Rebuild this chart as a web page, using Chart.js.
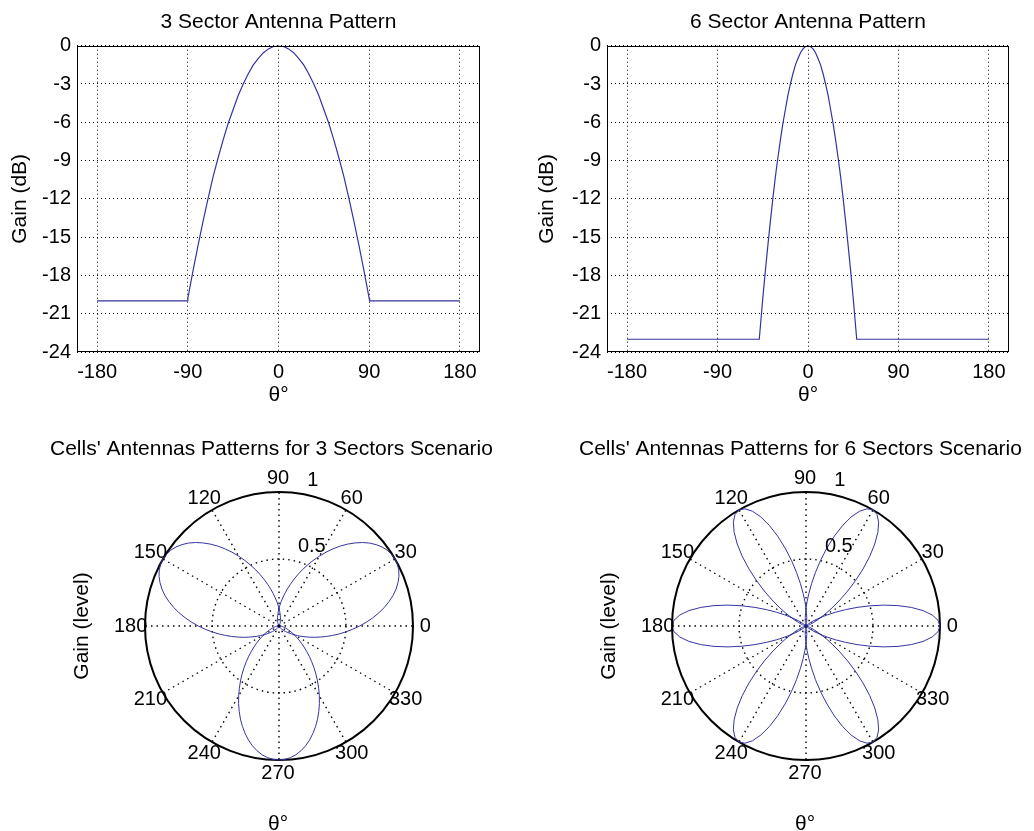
<!DOCTYPE html>
<html>
<head>
<meta charset="utf-8">
<script src="https://cdn.jsdelivr.net/npm/chart.js@4.4.1/dist/chart.umd.min.js"></script>
<style>
	html, body { margin:0; padding:0; background:#fff; }
	#fig { position:relative; width:1034px; height:831px; overflow:hidden; background:#fff; }
	canvas { position:absolute; }
</style>
</head>
<body>
<div id="fig">
	<canvas id="sector3" width="517" height="415" style="left:0px;top:0px"></canvas>
	<canvas id="sector6" width="517" height="415" style="left:517px;top:0px"></canvas>
	<canvas id="polar3" width="458" height="411" style="left:50px;top:420px"></canvas>
	<canvas id="polar6" width="455" height="411" style="left:579px;top:420px"></canvas>
</div>
<script>
/* =========================================================== DATA START =========================================================== */
// top plots: gain (dB) vs angle (deg)
var xTickVals = [-180, -90, 0, 90, 180];
var yTickVals = [-24, -21, -18, -15, -12, -9, -6, -3, 0];

var angle3Deg = [-180, -90.5, -90, -85, -80, -75, -70, -65, -60, -55, -50, -45, -40, -35, -30, -25, -20, -15, -10, -5, 0,
				 5, 10, 15, 20, 25, 30, 35, 40, 45, 50, 55, 60, 65, 70, 75, 80, 85, 90, 90.5, 180];
var gain3Db   = [-20, -20, -19.8, -17.7, -15.7, -13.8, -12.0, -10.3, -8.8, -7.4, -6.1, -5.0, -3.9, -3.0, -2.2, -1.5, -1.0, -0.55, -0.25, -0.06, 0,
				 -0.06, -0.25, -0.55, -1.0, -1.5, -2.2, -3.0, -3.9, -5.0, -6.1, -7.4, -8.8, -10.3, -12.0, -13.8, -15.7, -17.7, -19.8, -20, -20];

var angle6Deg = [-180, -48.5, -47.5, -45, -42.5, -40, -37.5, -35, -32.5, -30, -27.5, -25, -22.5, -20, -17.5, -15, -12.5, -10, -7.5, -5, -2.5, 0,
				 2.5, 5, 7.5, 10, 12.5, 15, 17.5, 20, 22.5, 25, 27.5, 30, 32.5, 35, 37.5, 40, 42.5, 45, 47.5, 48.5, 180];
var gain6Db   = [-23, -23, -22.1, -19.8, -17.7, -15.7, -13.8, -12.0, -10.3, -8.8, -7.4, -6.1, -5.0, -3.9, -3.0, -2.2, -1.5, -1.0, -0.55, -0.25, -0.06, 0,
				 -0.06, -0.25, -0.55, -1.0, -1.5, -2.2, -3.0, -3.9, -5.0, -6.1, -7.4, -8.8, -10.3, -12.0, -13.8, -15.7, -17.7, -19.8, -22.1, -23, -23];

// bottom plots: linear level of one lobe, from its boresight outwards every 2.5 deg, then flat floor
var polarStepDeg = 2.5;
var lobe3Level = [1.000, 0.996, 0.986, 0.969, 0.945, 0.916, 0.881, 0.841, 0.798, 0.752, 0.703, 0.653, 0.602, 0.551, 0.501, 0.453,
				  0.406, 0.361, 0.319, 0.280, 0.244, 0.211, 0.182, 0.155, 0.131, 0.111, 0.092, 0.077, 0.063, 0.052, 0.042, 0.034,
				  0.027, 0.022, 0.017, 0.013, 0.010];
var lobe3Floor = 0.010;
var lobe6Level = [1.000, 0.986, 0.945, 0.881, 0.798, 0.703, 0.602, 0.501, 0.406, 0.319, 0.244, 0.182, 0.131, 0.092, 0.063, 0.042,
				  0.027, 0.017, 0.010, 0.006];
var lobe6Floor = 0.005;

var sectors3Az = [30, 150, 270];
var sectors6Az = [0, 60, 120, 180, 240, 300];
var radialTickVals = [0.5, 1];
/* =========================================================== DATA END =========================================================== */

var lineColor = '#3434a0';
var gridColor = '#000';
var fontFamily = '"Liberation Sans", Arial, Helvetica, sans-serif';
Chart.defaults.font.family = fontFamily;
Chart.defaults.color = '#000';

// angle of each radar spoke, counter-clockwise from 0 deg (index 0 at the right)
var polarAngles = [];
for (var i = 0; i < 360 / polarStepDeg; i++) { polarAngles.push((360 - i * polarStepDeg) % 360); }

function lobeLevelAt(lobe, floorLevel, angle, azimuth)
{
	var off = Math.abs((((angle - azimuth) % 360) + 540) % 360 - 180);
	var idx = Math.round(off / polarStepDeg);
	return idx < lobe.length ? lobe[idx] : floorLevel;
}

// MATLAB-like box round the axes
var boxBorder =
{
	id: 'boxBorder',
	afterDatasetsDraw: function(chart)
	{
		var a = chart.chartArea, ctx = chart.ctx;
		ctx.save();
		ctx.strokeStyle = '#000';
		ctx.lineWidth = 1;
		ctx.strokeRect(Math.round(a.left) + 0.5, Math.round(a.top) + 0.5, Math.round(a.right - a.left) - 1, Math.round(a.bottom - a.top) - 1);
		ctx.restore();
	}
};

// angle labels, radius labels and axis labels of the polar plots
var polarText =
{
	id: 'polarText',
	afterDraw: function(chart)
	{
		var r = chart.scales.r, ctx = chart.ctx, R = r.drawingArea;
		ctx.save();
		ctx.fillStyle = '#000';
		ctx.font = '20px ' + fontFamily;
		ctx.textAlign = 'center';
		ctx.textBaseline = 'middle';
		chart.data.labels.forEach(function(a, i)
		{
			if (a % 30 !== 0) return;
			var p = r.getPointPosition(i, R * 1.1);
			ctx.fillText(String(a), p.x - 1, p.y);
		});
		ctx.textAlign = 'left';
		ctx.textBaseline = 'bottom';
		var ang = 82 * Math.PI / 180;
		radialTickVals.forEach(function(v)
		{
			var d = r.getDistanceFromCenterForValue(v + 0.025);
			ctx.fillText('  ' + v, r.xCenter + d * Math.cos(ang) - 2, r.yCenter - d * Math.sin(ang));
		});
		ctx.font = '21px ' + fontFamily;
		ctx.textAlign = 'center';
		ctx.textBaseline = 'middle';
		ctx.fillText('\u03b8\u00b0', r.xCenter - 1, r.yCenter + 198);
		ctx.translate(r.xCenter - 197, r.yCenter);
		ctx.rotate(-Math.PI / 2);
		ctx.fillText('Gain (level)', 0, 0);
		ctx.restore();
	}
};

/* =========================================================== SECTOR PATTERN (dB) START =========================================================== */
function SectorPatternCreator(canvasId, titleText, angles, gains, yAxisWidth, rightPad, yTitlePad)
{
	var points = angles.map(function(a, k) { return {x: a, y: gains[k]}; });

	new Chart(document.getElementById(canvasId), {
		type: 'line',
		data: {
			datasets: [{
				data: points,
				borderColor: lineColor,
				borderWidth: 1.2,
				pointRadius: 0,
				fill: false,
				tension: 0
			}]
		},
		options: {
			responsive: false,
			animation: false,
			layout: { padding: {left: 0, right: rightPad, top: 0, bottom: 0} },
			plugins: {
				legend: {display: false},
				tooltip: {enabled: false},
				title: {
					display: true,
					text: titleText,
					fullSize: false,
					color: '#000',
					font: {size: 21, weight: 'normal', lineHeight: 1.2},
					padding: {top: 10, bottom: 10.5}
				}
			},
			scales: {
				x: {
					type: 'linear',
					min: -200,
					max: 200,
					afterBuildTicks: function(s) { s.ticks = xTickVals.map(function(v) { return {value: v}; }); },
					afterFit: function(s) { s.height = 63; },
					grid: {color: gridColor, lineWidth: 1, drawTicks: false},
					border: {display: false, dash: [1, 3]},
					ticks: {padding: 8, color: '#000', font: {size: 20}, maxRotation: 0, autoSkip: false},
					title: {display: true, text: '\u03b8\u00b0', color: '#000', font: {size: 21}, padding: {top: 0, bottom: 7}}
				},
				y: {
					min: -24,
					max: 0,
					afterBuildTicks: function(s) { s.ticks = yTickVals.map(function(v) { return {value: v}; }); },
					afterFit: function(s) { s.width = yAxisWidth; },
					grid: {color: gridColor, lineWidth: 1, drawTicks: false},
					border: {display: false, dash: [1, 3]},
					ticks: {padding: 6, color: '#000', font: {size: 20}, autoSkip: false},
					title: {display: true, text: 'Gain (dB)', color: '#000', font: {size: 21}, padding: {top: yTitlePad, bottom: 0}}
				}
			}
		},
		plugins: [boxBorder]
	});
}
/* =========================================================== SECTOR PATTERN (dB) END =========================================================== */

/* =========================================================== POLAR LOBES START =========================================================== */
function PolarLobesCreator(canvasId, titleText, azimuths, lobe, floorLevel)
{
	var sets = azimuths.map(function(az)
	{
		return {
			data: polarAngles.map(function(a) { return lobeLevelAt(lobe, floorLevel, a, az); }),
			borderColor: lineColor,
			borderWidth: 1,
			pointRadius: 0,
			pointHitRadius: 0,
			fill: false
		};
	});

	new Chart(document.getElementById(canvasId), {
		type: 'radar',
		data: { labels: polarAngles, datasets: sets },
		options: {
			responsive: false,
			animation: false,
			layout: { padding: {left: 0, right: 0, top: 0, bottom: 70} },
			plugins: {
				legend: {display: false},
				tooltip: {enabled: false},
				title: {
					display: true,
					text: titleText,
					align: 'start',
					color: '#000',
					font: {size: 21, weight: 'normal', lineHeight: 1.2},
					padding: {top: 17, bottom: 30}
				}
			},
			scales: {
				r: {
					min: 0,
					max: 1,
					startAngle: 90,
					ticks: {display: false, stepSize: 0.5},
					pointLabels: {display: false},
					grid: {
						circular: true,
						color: '#000',
						lineWidth: function(ctx) { return ctx.tick && ctx.tick.value === 1 ? 2 : 1.4; }
					},
					border: {
						dash: function(ctx) { return ctx.tick && ctx.tick.value === 1 ? [] : [1.5, 4]; }
					},
					angleLines: {
						display: true,
						color: '#000',
						lineWidth: function(ctx) { return polarAngles[ctx.index] % 30 === 0 ? 1.4 : 0; },
						borderDash: [1.5, 4]
					}
				}
			}
		},
		plugins: [polarText]
	});
}
/* =========================================================== POLAR LOBES END =========================================================== */

SectorPatternCreator('sector3', '3 Sector Antenna Pattern', angle3Deg, gain3Db, 77, 37, 7.4);
SectorPatternCreator('sector6', '6 Sector Antenna Pattern', angle6Deg, gain6Db, 90, 25, 17.4);
PolarLobesCreator('polar3', "Cells' Antennas Patterns for 3 Sectors Scenario", sectors3Az, lobe3Level, lobe3Floor);
PolarLobesCreator('polar6', "Cells' Antennas Patterns for 6 Sectors Scenario", sectors6Az, lobe6Level, lobe6Floor);
</script>
</body>
</html>
